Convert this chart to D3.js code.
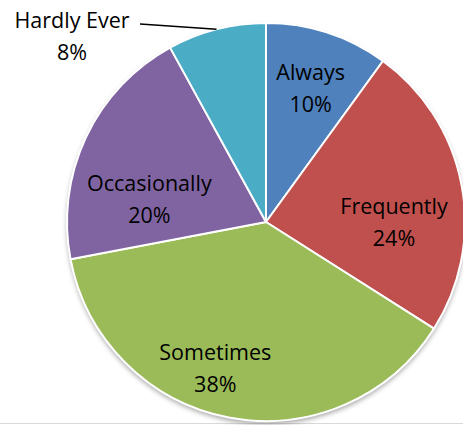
<!DOCTYPE html>
<html><head><meta charset="utf-8">
<script src="https://cdn.jsdelivr.net/npm/d3@7"></script>
<style>html,body{margin:0;padding:0;background:#fff;overflow:hidden}</style>
</head><body>
<svg id="c" width="463" height="425"></svg>
<script>
const categories = ["Always", "Frequently", "Sometimes", "Occasionally", "Hardly Ever"];
const values = [10, 24, 38, 20, 8];
const labels = ["10%", "24%", "38%", "20%", "8%"];
const colors = ["#4F81BD", "#C0504D", "#9BBB59", "#8064A2", "#4BACC6"];
// label placement (radius fraction and pixel nudges), layout only
const labelRadius = [0.71, 0.66, 0.77, 0.62, 0];
const labelNudge = [[1, 0], [-1, 25], [-22, -5], [-5, 30], [0, 0]];

const svg = d3.select("#c");
const cx = 266, cy = 222, R = 199;
const defs = svg.append("defs");
const f = defs.append("filter").attr("id", "sh").attr("x", "-20%").attr("y", "-20%").attr("width", "140%").attr("height", "140%");
f.append("feDropShadow").attr("dx", 0).attr("dy", 3).attr("stdDeviation", 2.5).attr("flood-color", "#000").attr("flood-opacity", 0.35);

svg.append("line").attr("x1", 0).attr("x2", 463).attr("y1", 423.5).attr("y2", 423.5)
  .attr("stroke", "#D9D9D9").attr("stroke-width", 1);

const pie = d3.pie().sort(null).value(d => d)(values);
const arc = d3.arc().innerRadius(0).outerRadius(R);
const g = svg.append("g").attr("transform", `translate(${cx},${cy})`);

g.append("circle").attr("r", R).attr("fill", "#fff").attr("filter", "url(#sh)");
g.selectAll("path.s").data(pie).enter().append("path")
  .attr("class", "s").attr("d", arc)
  .attr("fill", (d, i) => colors[i])
  .attr("stroke", "#fff").attr("stroke-width", 2).attr("stroke-linejoin", "round");

const font = "'Open Sans', 'Liberation Sans', sans-serif";
const fs = 21.5;
pie.forEach((d, i) => {
  if (i === 4) return;
  const a = d3.arc().innerRadius(R * labelRadius[i]).outerRadius(R * labelRadius[i]);
  const [x, y] = a.centroid(d);
  const tx = x + labelNudge[i][0], ty = y + labelNudge[i][1];
  const t = g.append("text").attr("text-anchor", "middle").attr("font-family", font)
    .attr("font-size", fs).attr("fill", "#000");
  t.append("tspan").attr("x", tx).attr("y", ty - 8).text(categories[i]);
  t.append("tspan").attr("x", tx).attr("y", ty + 24).text(labels[i]);
});

// Hardly Ever outside label with leader line
const dH = pie[4];
const edge = d3.arc().innerRadius(R).outerRadius(R).centroid(dH);
const lx = 72 - cx, ly = 36 - cy;
const t = g.append("text").attr("text-anchor", "middle").attr("font-family", font)
  .attr("font-size", fs).attr("fill", "#000");
t.append("tspan").attr("x", lx).attr("y", ly - 8).text(categories[4]);
t.append("tspan").attr("x", lx).attr("y", ly + 24).text(labels[4]);
g.append("line").attr("x1", 140 - cx).attr("y1", 24 - cy).attr("x2", edge[0]).attr("y2", edge[1])
  .attr("stroke", "#000").attr("stroke-width", 1.3);
</script>
</body></html>
